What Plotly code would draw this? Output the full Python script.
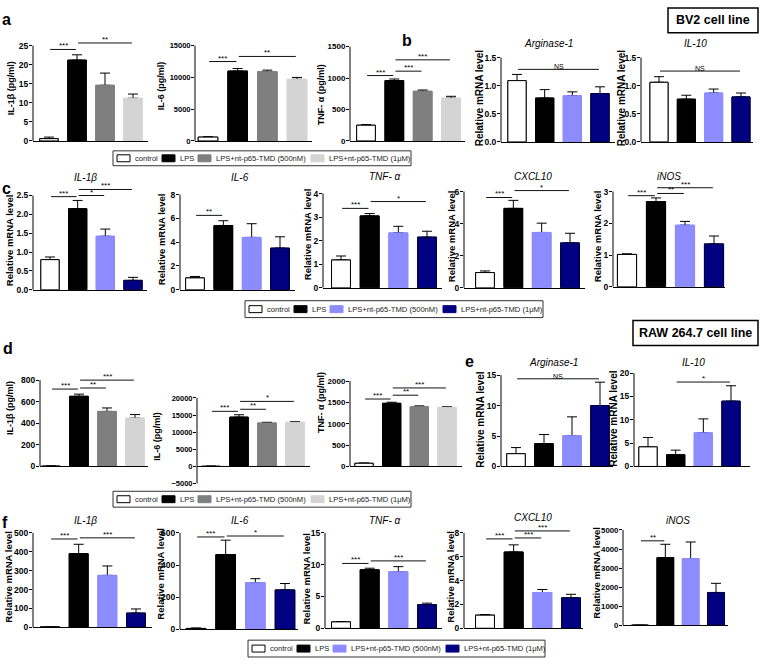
import plotly.graph_objects as go

W, H = 760, 664
FONT = "Liberation Sans, Arial, sans-serif"

# ---------------- data ----------------
GROUPS = ["control", "LPS", "LPS+nt-p65-TMD (500nM)", "LPS+nt-p65-TMD (1μM)"]

# a: BV2 ELISA
a_il1b_mean = [0.6, 21.2, 14.6, 11.2];      a_il1b_err = [0.4, 1.4, 3.2, 1.1]
a_il6_mean = [600, 11000, 10900, 9700];     a_il6_err = [60, 400, 250, 300]
a_tnf_mean = [250, 960, 790, 680];          a_tnf_err = [10, 25, 20, 30]
# b: BV2 mRNA (M2)
b_arg_mean = [1.09, 0.78, 0.82, 0.86];      b_arg_err = [0.11, 0.15, 0.07, 0.12]
b_il10_mean = [1.06, 0.76, 0.87, 0.80];     b_il10_err = [0.10, 0.07, 0.07, 0.07]
# c: BV2 mRNA (M1)
c_il1b_mean = [0.80, 2.15, 1.42, 0.25];     c_il1b_err = [0.07, 0.22, 0.19, 0.08]
c_il6_mean = [1.0, 5.4, 4.4, 3.5];          c_il6_err = [0.12, 0.4, 1.15, 0.95]
c_tnf_mean = [1.18, 3.05, 2.33, 2.15];      c_tnf_err = [0.17, 0.10, 0.28, 0.25]
c_cxcl10_mean = [0.95, 4.95, 3.45, 2.8];    c_cxcl10_err = [0.10, 0.50, 0.58, 0.60]
c_inos_mean = [1.02, 2.68, 1.94, 1.35];     c_inos_err = [0.02, 0.12, 0.12, 0.25]
# d: RAW 264.7 ELISA
d_il1b_mean = [3, 650, 510, 448];           d_il1b_err = [2, 20, 32, 33]
d_il6_mean = [50, 14400, 12700, 12900];     d_il6_err = [50, 700, 200, 200]
d_tnf_mean = [75, 1480, 1400, 1385];        d_tnf_err = [5, 25, 20, 15]
# e: RAW mRNA (M2)
e_arg_mean = [2.1, 3.75, 5.05, 10.0];       e_arg_err = [1.0, 1.5, 3.1, 3.85]
e_il10_mean = [4.2, 2.5, 7.2, 14.0];        e_il10_err = [2.0, 1.0, 3.0, 3.3]
# f: RAW mRNA (M1)
f_il1b_mean = [2, 390, 275, 75];            f_il1b_err = [1, 50, 50, 22]
f_il6_mean = [5, 465, 290, 245];            f_il6_err = [3, 90, 25, 40]
f_tnf_mean = [1.0, 9.2, 8.9, 3.7];          f_tnf_err = [0.05, 0.25, 0.8, 0.25]
f_cxcl10_mean = [1.1, 6.4, 3.0, 2.55];      f_cxcl10_err = [0.05, 0.6, 0.25, 0.3]
f_inos_mean = [1, 3550, 3500, 1720];        f_inos_err = [0, 700, 870, 480]

# tick values
T_a1 = [0, 5, 10, 15, 20, 25]; T_a2 = [0, 5000, 10000, 15000]; T_a3 = [0, 500, 1000, 1500]
T_b = [0, 0.5, 1.0, 1.5]
T_c1 = [0, 0.5, 1.0, 1.5, 2.0, 2.5]; T_c2 = [0, 2, 4, 6, 8]; T_c3 = [0, 1, 2, 3, 4]
T_c4 = [0, 2, 4, 6]; T_c5 = [0, 1, 2, 3]
T_d1 = [0, 200, 400, 600, 800]; T_d2 = [-5000, 0, 5000, 10000, 15000, 20000]
T_d3 = [0, 500, 1000, 1500, 2000]
T_e1 = [0, 5, 10, 15]; T_e2 = [0, 5, 10, 15, 20]
T_f1 = [0, 100, 200, 300, 400, 500]; T_f2 = [0, 200, 400, 600]; T_f3 = [0, 5, 10, 15]
T_f4 = [0, 2, 4, 6, 8]; T_f5 = [0, 1000, 2000, 3000, 4000, 5000]

# significance brackets: (group i, group j, y value, label)
SIG = {
    "a1": [(0, 1, 24.0, "***"), (1, 3, 25.7, "**")],
    "a2": [(0, 1, 12500, "***"), (1, 3, 13300, "**")],
    "a3": [(0, 1, 1040, "***"), (1, 2, 1110, "***"), (1, 3, 1290, "***")],
    "b1": [(0, 3, 1.29, "NS")],
    "b2": [(0, 3, 1.26, "NS")],
    "c1": [(0, 1, 2.47, "***"), (1, 2, 2.50, "*"), (1, 3, 2.66, "***")],
    "c2": [(0, 1, 6.25, "**")],
    "c3": [(0, 1, 3.37, "***"), (1, 3, 3.66, "*")],
    "c4": [(0, 1, 5.63, "***"), (1, 3, 6.06, "*")],
    "c5": [(0, 1, 2.87, "***"), (1, 2, 2.94, "**"), (1, 3, 3.12, "***")],
    "d1": [(0, 1, 717, "***"), (1, 2, 727, "**"), (1, 3, 800, "***")],
    "d2": [(0, 1, 16100, "***"), (1, 2, 16700, "**"), (1, 3, 19000, "*")],
    "d3": [(0, 1, 1580, "***"), (1, 2, 1670, "**"), (1, 3, 1840, "***")],
    "e1": [(0, 3, 14.4, "NS")],
    "e2": [(1, 3, 18.1, "*")],
    "f1": [(0, 1, 468, "***"), (1, 3, 474, "***")],
    "f2": [(0, 1, 575, "***"), (1, 3, 581, "*")],
    "f3": [(0, 1, 10.2, "***"), (1, 3, 10.6, "***")],
    "f4": [(0, 1, 7.5, "***"), (1, 2, 7.58, "***"), (1, 3, 8.17, "***")],
    "f5": [(0, 1, 4430, "**")],
}

ELISA_COLORS = ["#ffffff", "#000000", "#7f7f7f", "#d4d4d4"]
MRNA_COLORS = ["#ffffff", "#000000", "#8c8cff", "#000080"]

REL = "Relative mRNA level"
PANELS = [
    # key, mean, err, ticks, fmt, ytitle, title, palette
    ("a1", a_il1b_mean, a_il1b_err, T_a1, "d", "IL-1β (pg/ml)", "", ELISA_COLORS),
    ("a2", a_il6_mean, a_il6_err, T_a2, "d", "IL-6 (pg/ml)", "", ELISA_COLORS),
    ("a3", a_tnf_mean, a_tnf_err, T_a3, "d", "TNF- α (pg/ml)", "", ELISA_COLORS),
    ("b1", b_arg_mean, b_arg_err, T_b, ".1f", REL, "Arginase-1", MRNA_COLORS),
    ("b2", b_il10_mean, b_il10_err, T_b, ".1f", REL, "IL-10", MRNA_COLORS),
    ("c1", c_il1b_mean, c_il1b_err, T_c1, ".1f", REL, "IL-1β", MRNA_COLORS),
    ("c2", c_il6_mean, c_il6_err, T_c2, "d", REL, "IL-6", MRNA_COLORS),
    ("c3", c_tnf_mean, c_tnf_err, T_c3, "d", REL, "TNF- α", MRNA_COLORS),
    ("c4", c_cxcl10_mean, c_cxcl10_err, T_c4, "d", REL, "CXCL10", MRNA_COLORS),
    ("c5", c_inos_mean, c_inos_err, T_c5, "d", REL, "iNOS", MRNA_COLORS),
    ("d1", d_il1b_mean, d_il1b_err, T_d1, "d", "IL-1β (pg/ml)", "", ELISA_COLORS),
    ("d2", d_il6_mean, d_il6_err, T_d2, "d", "IL-6 (pg/ml)", "", ELISA_COLORS),
    ("d3", d_tnf_mean, d_tnf_err, T_d3, "d", "TNF- α (pg/ml)", "", ELISA_COLORS),
    ("e1", e_arg_mean, e_arg_err, T_e1, "d", REL, "Arginase-1", MRNA_COLORS),
    ("e2", e_il10_mean, e_il10_err, T_e2, "d", REL, "IL-10", MRNA_COLORS),
    ("f1", f_il1b_mean, f_il1b_err, T_f1, "d", REL, "IL-1β", MRNA_COLORS),
    ("f2", f_il6_mean, f_il6_err, T_f2, "d", REL, "IL-6", MRNA_COLORS),
    ("f3", f_tnf_mean, f_tnf_err, T_f3, "d", REL, "TNF- α", MRNA_COLORS),
    ("f4", f_cxcl10_mean, f_cxcl10_err, T_f4, "d", REL, "CXCL10", MRNA_COLORS),
    ("f5", f_inos_mean, f_inos_err, T_f5, "d", REL, "iNOS", MRNA_COLORS),
]

# ---------------- layout geometry (pixels) ----------------
# axis left, axis right, first bar centre, last bar centre, top-tick px, zero px
GEOM = {
    "a1": (33, 148, 49, 133, 46, 142), "a2": (195, 312, 208, 297, 46, 142),
    "a3": (350, 465, 366, 451, 47, 142),
    "b1": (501, 615, 517, 600, 58, 143), "b2": (641, 753, 659, 741, 58, 143),
    "c1": (33, 147, 50, 133, 197, 292), "c2": (180, 295, 195, 280, 196, 292),
    "c3": (323, 442, 341, 427, 195, 290), "c4": (464, 585, 485, 570, 193, 290),
    "c5": (613, 725, 627, 714, 193, 289),
    "d1": (40, 148, 51, 135, 383, 470), "d2": (197, 310, 211, 295, 401, 470),
    "d3": (350, 462, 364, 447, 384, 470),
    "e1": (501, 613, 516, 600, 378, 470), "e2": (634, 750, 648, 731, 376, 470),
    "f1": (33, 152, 50, 136, 537, 632), "f2": (180, 298, 196, 285, 537, 634),
    "f3": (325, 442, 341, 427, 537, 633), "f4": (464, 583, 485, 571, 537, 633),
    "f5": (623, 728, 640, 716, 534, 630),
}
YMIN = {"d2": -5000}
YTITLE_POS = {
    "a1": (11, 89, 9), "a2": (161, 87, 9), "a3": (321, 96, 9),
    "b1": (479, 99, 10), "b2": (621, 99, 10),
    "c1": (9, 242, 9.5), "c2": (161, 241, 9.5), "c3": (307, 236, 9.5),
    "c4": (451, 238, 9.5), "c5": (597, 238, 9.5),
    "d1": (10, 411, 9), "d2": (157, 440, 9), "d3": (321, 406, 9),
    "e1": (481, 423, 10), "e2": (614, 422, 10),
    "f1": (9, 581, 9.5), "f2": (161, 578, 9.5), "f3": (307, 583, 9.5),
    "f4": (451, 581, 9.5), "f5": (597, 577, 9.5),
}
TITLE_POS = {
    "b1": (548, 44, 10), "b2": (695, 44, 10),
    "c1": (85, 179, 10), "c2": (240, 179, 10), "c3": (385, 178, 10),
    "c4": (533, 178, 10), "c5": (669, 178, 10),
    "e1": (553, 365, 10), "e2": (693, 365, 10),
    "f1": (85, 524, 10), "f2": (240, 524, 10), "f3": (385, 524, 10),
    "f4": (533, 521, 10), "f5": (678, 524, 10),
}
TICK_SIZE = {"a2": 7.5, "d2": 7.5, "f5": 7.8, "a3": 8, "d3": 8}
EXT = 1.22

fig = go.Figure()
layout = {}
shapes = []
annotations = []


def px(x):
    return x / W


def py(y):
    return 1 - y / H


for n, (key, mean, err, ticks, fmt, ytitle, title, pal) in enumerate(PANELS, start=1):
    left, right, c0, c3, top_px, zero_px = GEOM[key]
    ymin = YMIN.get(key, 0)
    T = ticks[-1]
    xs = "x" if n == 1 else f"x{n}"
    ys = "y" if n == 1 else f"y{n}"
    xa = "xaxis" if n == 1 else f"xaxis{n}"
    ya = "yaxis" if n == 1 else f"yaxis{n}"
    sp = (c3 - c0) / 3
    xr = [-(c0 - left) / sp, 3 + (right - c3) / sp]
    k = (zero_px - top_px) / T
    ytop = T * EXT
    dom_bot = zero_px - ymin * k
    dom_top = zero_px - ytop * k
    layout[xa] = dict(domain=[px(left), px(right)], range=xr, anchor=ys,
                      type="category", categoryorder="array", categoryarray=GROUPS,
                      showline=(ymin == 0), linecolor="black", linewidth=1,
                      ticks="", showticklabels=False, showgrid=False, zeroline=False,
                      fixedrange=True)
    layout[ya] = dict(domain=[py(dom_bot), py(dom_top)], range=[ymin, ytop], anchor=xs,
                      tickmode="array", tickvals=ticks, tickformat=fmt,
                      ticks="outside", ticklen=3, tickwidth=1, tickcolor="black",
                      ticklabelstandoff=-1,
                      showline=False, showgrid=False, zeroline=False, fixedrange=True,
                      tickfont=dict(family=FONT, size=TICK_SIZE.get(key, 8.5),
                                    color="black", weight="bold"))
    line_cols = ["#000000", "#000000", pal[2], pal[3] if pal[3] != "#000080" else "#000040"]
    fig.add_trace(go.Bar(x=GROUPS, y=mean, xaxis=xs, yaxis=ys, width=0.66,
                         marker=dict(color=pal, line=dict(color=line_cols, width=1)),
                         error_y=dict(type="data", symmetric=False, array=err,
                                      arrayminus=[0] * len(err), color="black",
                                      thickness=1, width=5),
                         hoverinfo="skip", showlegend=False))
    # cover trace hides the lower cap of the error bars
    fig.add_trace(go.Bar(x=GROUPS, y=mean, xaxis=xs, yaxis=ys, width=0.66,
                         marker=dict(color=pal, line=dict(color=line_cols, width=1)),
                         hoverinfo="skip", showlegend=False))
    # y-axis spine from min to top tick
    shapes.append(dict(type="line", xref=f"{xs} domain", yref=ys, x0=0, x1=0,
                       y0=ymin, y1=T, line=dict(color="black", width=1)))
    if ymin != 0:
        shapes.append(dict(type="line", xref=f"{xs} domain", yref=ys, x0=0, x1=1,
                           y0=0, y1=0, line=dict(color="black", width=1)))
    # significance brackets
    for (i, j, v, lab) in SIG.get(key, []):
        shapes.append(dict(type="line", xref=xs, yref=ys, x0=i + 0.04, x1=j - 0.04,
                           y0=v, y1=v, line=dict(color="#111111", width=1)))
        annotations.append(dict(xref=xs, yref=ys, x=(i + j) / 2, y=v, text=lab,
                                showarrow=False, yanchor="bottom", yshift=-3,
                                font=dict(family=FONT, size=8 if lab != "NS" else 7,
                                          color="black")))
    # y title
    tx, ty, tsz = YTITLE_POS[key]
    annotations.append(dict(xref="paper", yref="paper", x=px(tx), y=py(ty),
                            text=f"<b>{ytitle}</b>", textangle=-90, showarrow=False,
                            xanchor="center", yanchor="middle",
                            font=dict(family=FONT, size=tsz, color="black")))
    if title:
        gx, gy, gsz = TITLE_POS[key]
        annotations.append(dict(xref="paper", yref="paper", x=px(gx), y=py(gy),
                                text=f"<i>{title}</i>", showarrow=False,
                                xanchor="center", yanchor="middle",
                                font=dict(family=FONT, size=gsz, color="black")))

# panel letters
for lab, (lx, ly) in {"a": (7, 20), "b": (407, 41), "c": (7, 190), "d": (8, 351),
                      "e": (469, 364), "f": (5, 526)}.items():
    annotations.append(dict(xref="paper", yref="paper", x=px(lx), y=py(ly),
                            text=f"<b>{lab}</b>", showarrow=False, xanchor="center",
                            yanchor="middle", font=dict(family=FONT, size=16, color="black")))

# legends
LEG_OFFSETS = [4, 49, 85, 198]


def add_legend(L, R, top, bot, pal):
    shapes.append(dict(type="rect", xref="paper", yref="paper", x0=px(L), x1=px(R),
                       y0=py(bot), y1=py(top), line=dict(color="#333333", width=1)))
    cy = (top + bot) / 2
    for off, grp, col in zip(LEG_OFFSETS, GROUPS, pal):
        lc = "#000000" if col in ("#ffffff", "#000000") else col
        shapes.append(dict(type="rect", xref="paper", yref="paper",
                           x0=px(L + off), x1=px(L + off + 13),
                           y0=py(cy + 3.5), y1=py(cy - 3.5), fillcolor=col,
                           line=dict(color=lc, width=1)))
        annotations.append(dict(xref="paper", yref="paper", x=px(L + off + 16), y=py(cy),
                                text=grp, showarrow=False, xanchor="left", yanchor="middle",
                                font=dict(family=FONT, size=7.6, color="#222222")))


add_legend(113, 411, 152, 167, ELISA_COLORS)
add_legend(245, 543, 303, 320, MRNA_COLORS)
add_legend(113, 411, 495, 511, ELISA_COLORS)
add_legend(248, 545, 645, 662, MRNA_COLORS)

# cell line boxes
for (x0, x1, y0, y1, txt) in [(668, 758, 8, 33, "BV2 cell line"),
                              (633, 758, 323, 348, "RAW 264.7 cell line")]:
    shapes.append(dict(type="rect", xref="paper", yref="paper", x0=px(x0), x1=px(x1),
                       y0=py(y1), y1=py(y0), line=dict(color="black", width=1.5)))
    annotations.append(dict(xref="paper", yref="paper", x=px((x0 + x1) / 2),
                            y=py((y0 + y1) / 2), text=f"<b>{txt}</b>", showarrow=False,
                            xanchor="center", yanchor="middle",
                            font=dict(family=FONT, size=12.5, color="black")))

fig.update_layout(width=W, height=H, margin=dict(l=0, r=0, t=0, b=0),
                  paper_bgcolor="white", plot_bgcolor="rgba(0,0,0,0)",
                  barmode="overlay", showlegend=False,
                  shapes=shapes, annotations=annotations, **layout)

fig.write_html("out.html", config={"displayModeBar": False},
               post_script="document.body.style.margin='0px';")
